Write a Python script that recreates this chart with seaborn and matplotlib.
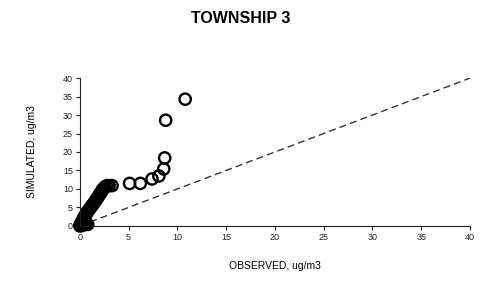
import matplotlib
matplotlib.use("Agg")
import matplotlib.pyplot as plt
import seaborn as sns
import numpy as np
import pandas as pd

# observed vs simulated concentrations, ug/m3
observed = [0.0, 0.05, 0.1, 0.15, 0.2, 0.25, 0.3, 0.35, 0.4, 0.5, 0.6, 0.7, 0.8, 0.9,
            0.2, 0.4, 0.6, 0.8, 0.3, 0.5,
            1.0, 1.1, 1.2, 1.3, 1.4, 1.5, 1.6, 1.7, 1.8, 1.9, 2.0, 2.1, 2.2, 2.3,
            2.4, 2.5, 2.6, 2.8, 3.0, 3.3,
            5.1, 6.2, 7.4, 8.1, 8.6, 8.7, 8.8, 10.8]
simulated = [0.0, 0.3, 0.6, 0.8, 1.0, 1.3, 1.6, 1.9, 2.2, 2.6, 3.0, 3.5, 3.9, 4.3,
             0.1, 0.3, 0.5, 0.4, 0.9, 1.5,
             4.6, 5.0, 5.3, 5.7, 6.0, 6.4, 6.8, 7.2, 7.6, 8.0, 8.4, 8.8, 9.2, 9.7,
             10.0, 10.3, 10.6, 10.9, 10.9, 10.9,
             11.5, 11.5, 12.7, 13.5, 15.4, 18.4, 28.6, 34.3]
one_to_one = [0, 40]

df = pd.DataFrame({"obs": observed, "sim": simulated})

sns.set_style("ticks")
plt.rcParams['font.family'] = ['Liberation Sans', 'DejaVu Sans']
plt.rcParams['text.color'] = 'black'
plt.rcParams['axes.labelcolor'] = 'black'

fig = plt.figure(figsize=(4.81, 2.82), dpi=100)
ax = fig.add_axes([0.166, 0.199, 0.811, 0.524])

ax.plot(one_to_one, one_to_one, ls=(0, (5, 3)), color="#333333", lw=1.0, zorder=1)
sns.scatterplot(data=df, x="obs", y="sim", ax=ax, s=66, facecolor="none",
                edgecolor="black", linewidth=1.7, zorder=2, clip_on=False)

ax.set_xlim(0, 40)
ax.set_ylim(0, 40)
ax.set_xticks(range(0, 41, 5))
ax.set_yticks(range(0, 41, 5))
ax.tick_params(labelsize=6.5, length=3, width=0.8, pad=2, colors="#222222")
sns.despine(ax=ax)
for sp in ax.spines.values():
    sp.set_linewidth(0.8)
    sp.set_color("#222222")

ax.set_xlabel("OBSERVED, ug/m3", fontsize=7.5, labelpad=14)
ax.set_ylabel("SIMULATED, ug/m3", fontsize=7.5, labelpad=19)
fig.text(0.5, 0.935, "TOWNSHIP 3", ha="center", va="center",
         fontsize=11.5, fontweight="bold", color="black")

fig.savefig("out.png", dpi=100)
